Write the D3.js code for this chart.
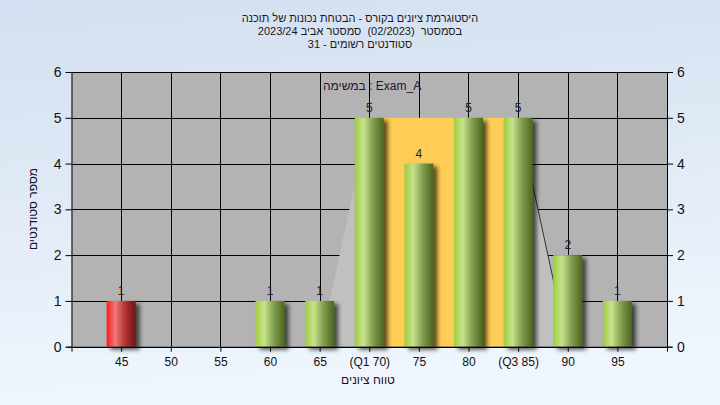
<!DOCTYPE html>
<html><head><meta charset="utf-8">
<script src="https://cdn.jsdelivr.net/npm/d3@7"></script>
<style>
html,body{margin:0;padding:0;}
body{width:720px;height:405px;overflow:hidden;}
text{font-family:"Liberation Sans",Arial,sans-serif;}
</style></head>
<body>
<svg id="chart" width="720" height="405"></svg>
<script>
// ---- data ----
const categories = [45, 50, 55, 60, 65, 70, 75, 80, 85, 90, 95];
const tickLabels = ["45", "50", "55", "60", "65", "(Q1 70)", "75", "80", "(Q3 85)", "90", "95"];
const counts = [1, 0, 0, 1, 1, 5, 4, 5, 5, 2, 1];
const failThreshold = 55;
const q1 = 70, q3 = 85, boxTop = 5;
const whiskerLow = 65, whiskerHigh = 90;
const yTicks = [0, 1, 2, 3, 4, 5, 6];
const titleLines = [
  "היסטוגרמת ציונים בקורס - הבטחת נכונות של תוכנה",
  "בסמסטר  (02/2023)  סמסטר אביב 2023/24",
  "סטודנטים רשומים - 31"
];
const taskLabel = "במשימה : Exam_A";
const xTitle = "טווח ציונים";
const yTitle = "מספר סטודנטים";

// ---- layout ----
const svg = d3.select("#chart");
const L = 71.5, R = 667, T = 72, B = 346.7;
const x = d3.scaleLinear().domain([40, 100]).range([L, R]);
const y = d3.scaleLinear().domain([0, 6]).range([B, T]);
const barW = 29;

const defs = svg.append("defs");
const bg = defs.append("linearGradient").attr("id", "bg").attr("x1", 0).attr("y1", 0).attr("x2", 0.15).attr("y2", 1);
bg.append("stop").attr("offset", "0%").attr("stop-color", "#d3dff0");
bg.append("stop").attr("offset", "100%").attr("stop-color", "#eff6fd");
const gG = defs.append("linearGradient").attr("id", "green").attr("x1", 0).attr("x2", 1).attr("y1", 0).attr("y2", 0);
gG.append("stop").attr("offset", "0%").attr("stop-color", "#9fcc3e");
gG.append("stop").attr("offset", "30%").attr("stop-color", "#c7e38c");
gG.append("stop").attr("offset", "65%").attr("stop-color", "#7f9a4c");
gG.append("stop").attr("offset", "100%").attr("stop-color", "#4a6620");
const rG = defs.append("linearGradient").attr("id", "red").attr("x1", 0).attr("x2", 1).attr("y1", 0).attr("y2", 0);
rG.append("stop").attr("offset", "0%").attr("stop-color", "#ff1a1a");
rG.append("stop").attr("offset", "30%").attr("stop-color", "#f07878");
rG.append("stop").attr("offset", "65%").attr("stop-color", "#b03030");
rG.append("stop").attr("offset", "100%").attr("stop-color", "#701515");
const sh = defs.append("filter").attr("id", "shadow").attr("x", "-20%").attr("y", "-10%").attr("width", "160%").attr("height", "130%");
sh.append("feDropShadow").attr("dx", 4).attr("dy", 3).attr("stdDeviation", 2).attr("flood-color", "#000").attr("flood-opacity", 0.65);

svg.append("rect").attr("width", 720).attr("height", 405).attr("fill", "url(#bg)");

// plot area
svg.append("rect").attr("x", L).attr("y", T).attr("width", R - L).attr("height", B - T).attr("fill", "#b3b3b3");

// grid
svg.append("g").selectAll("line.h").data(yTicks).join("line")
  .attr("x1", L).attr("x2", R).attr("y1", d => Math.round(y(d)) + 0.5).attr("y2", d => Math.round(y(d)) + 0.5)
  .attr("stroke", "#000").attr("stroke-width", 1);
svg.append("g").selectAll("line.v").data(categories).join("line")
  .attr("x1", d => Math.round(x(d)) + 0.5).attr("x2", d => Math.round(x(d)) + 0.5).attr("y1", T).attr("y2", B)
  .attr("stroke", "#000").attr("stroke-width", 1);

// box (Q1..Q3)
svg.append("rect").attr("x", x(q1)).attr("y", y(boxTop)).attr("width", x(q3) - x(q1)).attr("height", y(0) - y(boxTop))
  .attr("fill", "#ffcc55");
// whiskers
const tri = d3.line();
svg.append("path").attr("d", tri([[x(whiskerLow), y(0)], [x(q1), y(boxTop)], [x(q1), y(0)]]) + "Z")
  .attr("fill", "#c0c0c0");
svg.append("path").attr("d", tri([[x(q3), y(boxTop)], [x(whiskerHigh), y(0)], [x(q3), y(0)]]) + "Z")
  .attr("fill", "#c0c0c0");
svg.append("line").attr("x1", x(q3)).attr("y1", y(boxTop)).attr("x2", x(whiskerHigh)).attr("y2", y(0))
  .attr("stroke", "#333").attr("stroke-width", 1);

// bars
const data = categories.map((c, i) => ({ c, v: counts[i] })).filter(d => d.v > 0);
svg.append("g").selectAll("rect").data(data).join("rect")
  .attr("x", d => x(d.c) - barW / 2).attr("width", barW)
  .attr("y", d => y(d.v)).attr("height", d => y(0) - y(d.v))
  .attr("fill", d => d.c < failThreshold ? "url(#red)" : "url(#green)")
  .attr("filter", "url(#shadow)");

// value labels
svg.append("g").selectAll("text").data(data).join("text")
  .attr("x", d => x(d.c)).attr("y", d => y(d.v) - 6)
  .attr("text-anchor", "middle").attr("font-size", 12)
  .attr("fill", d => d.c < failThreshold ? "#3a1010" : "#1c1c38")
  .text(d => d.v);

// axes
const gx = svg.append("g").attr("transform", `translate(0,${B})`)
  .call(d3.axisBottom(x).tickValues(categories).tickFormat((d, i) => tickLabels[i]).tickSize(5).tickSizeOuter(0));
gx.select(".domain").attr("d", `M${L - 5},0.5H${R + 5}`);
const gl = svg.append("g").attr("transform", `translate(${L},0)`)
  .call(d3.axisLeft(y).tickValues(yTicks).tickFormat(d3.format("d")).tickSize(6).tickSizeOuter(0));
gl.select(".domain").attr("d", `M0.5,${T}V${B + 5}`);
const gr = svg.append("g").attr("transform", `translate(${R},0)`)
  .call(d3.axisRight(y).tickValues(yTicks).tickFormat(d3.format("d")).tickSize(6).tickSizeOuter(0));
gr.select(".domain").attr("d", `M0.5,${T}V${B + 5}`);
[gx, gl, gr].forEach(g => {
  g.selectAll("text").attr("font-size", 12).attr("fill", "#111").attr("font-family", "Liberation Sans, Arial, sans-serif");
  g.selectAll("line").attr("stroke", "#000");
  g.select(".domain").attr("stroke", "#000");
});
gx.selectAll("text").attr("dy", "0.95em");
gl.selectAll("text").attr("x", -10).attr("font-size", 14);
gr.selectAll("text").attr("x", 10).attr("font-size", 14);

// titles
svg.append("g").selectAll("text").data(titleLines).join("text")
  .attr("x", 360).attr("y", (d, i) => 22 + i * 13)
  .attr("text-anchor", "middle").attr("direction", "rtl").attr("unicode-bidi", "embed")
  .style("white-space", "pre")
  .attr("font-size", 11).attr("fill", "#1a1a1a").text(d => d);
svg.append("text").attr("x", 323).attr("y", 90).attr("font-size", 12).attr("fill", "#2a1030").text(taskLabel);
svg.append("text").attr("x", 368).attr("y", 384).attr("text-anchor", "middle").attr("font-size", 12)
  .attr("fill", "#1a1030").text(xTitle);
svg.append("text").attr("transform", "translate(37,209) rotate(-90)").attr("text-anchor", "middle")
  .attr("font-size", 12).attr("fill", "#1a1030").text(yTitle);
</script>
</body></html>
